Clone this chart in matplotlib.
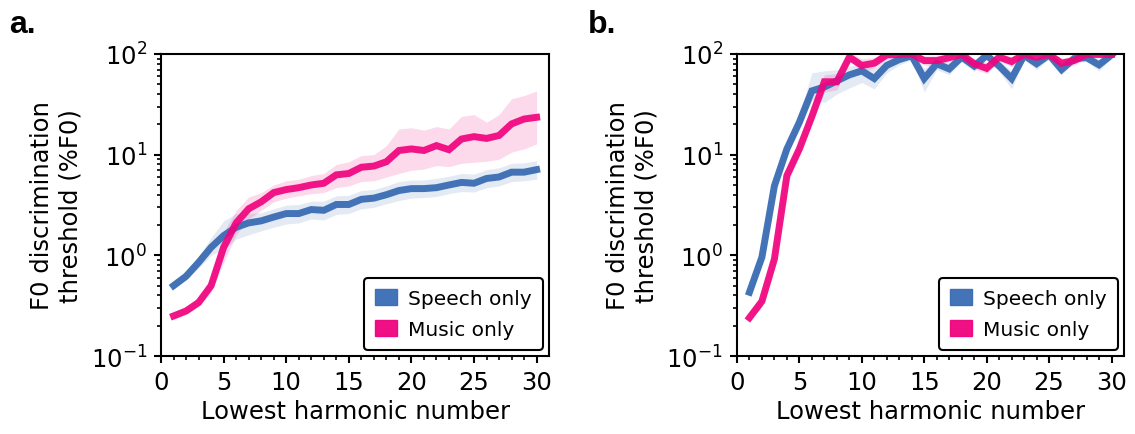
import numpy as np
import matplotlib
matplotlib.use("Agg")
import matplotlib.pyplot as plt
from matplotlib.patches import Patch

# lowest harmonic number 1..30
harmonics = list(range(1, 31))

# panel a: thresholds (%F0) with shaded error band
speech_a = [0.50, 0.62, 0.85, 1.2, 1.57, 1.9, 2.1, 2.2, 2.4, 2.6, 2.6, 2.85, 2.8, 3.2, 3.2,
            3.6, 3.7, 4.0, 4.4, 4.6, 4.6, 4.7, 5.0, 5.3, 5.2, 5.8, 6.0, 6.7, 6.7, 7.1]
speech_a_lo = [0.46, 0.57, 0.75, 1.0, 1.15, 1.45, 1.6, 1.75, 1.9, 2.05, 2.1, 2.3, 2.25, 2.55, 2.6,
               2.9, 3.0, 3.25, 3.5, 3.7, 3.75, 3.85, 4.1, 4.3, 4.25, 4.7, 4.9, 5.4, 5.5, 5.7]
speech_a_hi = [0.54, 0.68, 0.98, 1.5, 2.2, 2.6, 2.6, 2.65, 2.9, 3.15, 3.2, 3.45, 3.45, 3.9, 3.95,
               4.4, 4.5, 4.9, 5.4, 5.6, 5.6, 5.8, 6.1, 6.5, 6.4, 7.1, 7.4, 8.2, 8.3, 8.7]
music_a = [0.25, 0.28, 0.34, 0.50, 1.2, 2.1, 2.9, 3.4, 4.2, 4.5, 4.7, 5.0, 5.2, 6.3, 6.5,
           7.5, 7.7, 8.5, 11.0, 11.4, 11.0, 12.3, 11.2, 14.3, 15.1, 14.5, 15.5, 20.2, 22.6, 23.5]
music_a_lo = [0.23, 0.26, 0.31, 0.43, 0.85, 1.6, 2.3, 2.8, 3.4, 3.7, 3.9, 4.1, 4.2, 4.7, 4.9,
              5.4, 5.5, 6.0, 6.5, 7.0, 7.2, 7.8, 7.6, 8.2, 8.4, 8.6, 9.0, 10.6, 11.4, 12.8]
music_a_hi = [0.27, 0.31, 0.38, 0.60, 1.7, 2.8, 3.8, 4.2, 5.0, 5.5, 5.7, 6.2, 6.5, 8.0, 8.5,
              9.8, 10.0, 12.3, 18.0, 18.5, 17.5, 19.0, 18.0, 24.0, 25.0, 21.0, 25.0, 36.0, 38.6, 43.0]

# panel b
speech_b = [0.43, 0.96, 4.9, 11.4, 21, 43, 47, 54, 62, 68, 57, 77, 88, 96, 57,
            80, 71, 93, 76, 97, 76, 57, 97, 80, 98, 70, 90, 92, 78, 98]
speech_b_lo = [0.40, 0.85, 4.3, 10, 18, 35, 33, 40, 46, 52, 45, 65, 78, 88, 42,
               70, 62, 85, 67, 88, 67, 45, 88, 70, 90, 62, 82, 84, 68, 90]
speech_b_hi = [0.46, 1.08, 5.6, 13, 25, 65, 68, 70, 75, 82, 72, 90, 100, 104, 72,
               92, 82, 100, 86, 104, 86, 68, 104, 90, 104, 80, 100, 100, 88, 104]
music_b = [0.24, 0.35, 0.92, 6.2, 11.4, 24, 53, 53, 93, 77, 81, 98, 99, 100, 86,
           86, 92, 99, 80, 72, 93, 84, 99, 93, 99, 81, 86, 99, 99, 99]
music_b_lo = [0.22, 0.31, 0.75, 5.0, 10, 20, 42, 44, 85, 67, 72, 90, 90, 92, 77,
              77, 84, 92, 71, 64, 85, 75, 92, 85, 92, 72, 77, 92, 92, 92]
music_b_hi = [0.27, 0.40, 1.15, 7.5, 13, 29, 62, 64, 104, 90, 92, 104, 104, 104, 96,
              96, 100, 104, 90, 82, 102, 94, 104, 102, 104, 91, 96, 104, 104, 104]

blue = "#3a6cb4"
pink = "#f0037e"

plt.rcParams["font.family"] = "DejaVu Sans"
plt.rcParams["font.size"] = 17.5

fig = plt.figure(figsize=(11.35, 4.35), dpi=100)
ax_a = fig.add_axes([0.1419, 0.1793, 0.3419, 0.6943])
ax_b = fig.add_axes([0.6493, 0.1793, 0.3410, 0.6943])

panels = [
    (ax_a, speech_a, speech_a_lo, speech_a_hi, music_a, music_a_lo, music_a_hi),
    (ax_b, speech_b, speech_b_lo, speech_b_hi, music_b, music_b_lo, music_b_hi),
]

for ax, sp, sp_lo, sp_hi, mu, mu_lo, mu_hi in panels:
    ax.fill_between(harmonics, sp_lo, sp_hi, color=blue, alpha=0.14, lw=0)
    ax.fill_between(harmonics, mu_lo, mu_hi, color=pink, alpha=0.15, lw=0)
    ax.plot(harmonics, sp, color=blue, lw=5, alpha=0.95, solid_joinstyle="miter")
    ax.plot(harmonics, mu, color=pink, lw=5, alpha=0.92, solid_joinstyle="miter")
    ax.set_yscale("log")
    ax.set_ylim(0.1, 100)
    ax.set_xlim(0, 31)
    ax.set_xticks([0, 5, 10, 15, 20, 25, 30])
    ax.set_xticks(range(0, 31), minor=True)
    ax.set_xlabel("Lowest harmonic number", labelpad=4)
    ax.set_ylabel("F0 discrimination\nthreshold (%F0)", labelpad=6)
    for s in ax.spines.values():
        s.set_linewidth(1.5)
    ax.tick_params(which="major", length=5, width=1.5, labelsize=17.5, pad=5)
    ax.tick_params(which="minor", length=3, width=1.2)
    handles = [Patch(facecolor=blue, edgecolor=blue, alpha=0.95),
               Patch(facecolor=pink, edgecolor=pink, alpha=0.95)]
    leg = ax.legend(handles, ["Speech only", "Music only"], loc="lower right",
                    fontsize=14.5, frameon=True, fancybox=True, framealpha=1,
                    edgecolor="black", borderaxespad=0.3, handlelength=1.1,
                    handleheight=0.8, handletextpad=0.55, borderpad=0.55,
                    labelspacing=0.6)
    leg.get_frame().set_linewidth(1.5)

fig.text(0.008, 0.925, "a.", fontsize=23, fontweight="bold", family="Liberation Sans")
fig.text(0.518, 0.925, "b.", fontsize=23, fontweight="bold", family="Liberation Sans")

fig.savefig("out.png", dpi=100)
